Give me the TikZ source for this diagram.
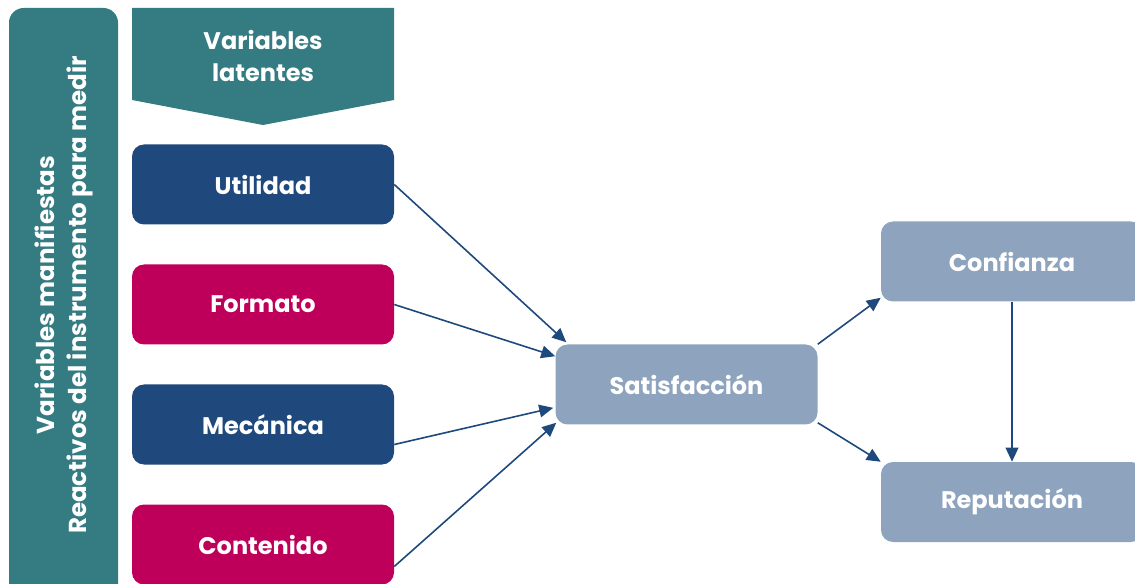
\documentclass[tikz,border=0pt]{standalone}
\usepackage{fontspec}
\setmainfont{Poppins}
\usetikzlibrary{arrows.meta}
\definecolor{tealbar}{HTML}{347B82}
\definecolor{navy}{HTML}{1F497D}
\definecolor{rosa}{HTML}{BE005A}
\definecolor{grisazul}{HTML}{8EA3BD}
\newcommand{\txt}{\bfseries\fontsize{18}{24.5}\selectfont}
\tikzset{
  caja/.style={rounded corners=9pt, minimum width=196.5pt, minimum height=60pt,
    inner sep=0pt, text=white, font=\txt},
  flecha/.style={draw=navy, line width=1.2pt, -{Triangle[length=10.5pt,width=9.5pt]}},
}
\begin{document}
\begin{tikzpicture}[x=0.75pt,y=-0.75pt]
   \clip (0,0) rectangle (1135,584);
   % barra izquierda
   \fill[tealbar, rounded corners=11pt] (9,8) rectangle (118,600);
   \node[rotate=90, align=center, text=white, font=\bfseries\fontsize{18.4}{24.5}\selectfont] (manif) at (64,295)
      {Variables manifiestas\\Reactivos del instrumento para medir};
   % encabezado
   \fill[tealbar] (132,8) -- (394,8) -- (394,100) -- (263,125) -- (132,100) -- cycle;
   \node[align=center, text=white, font=\txt] (lat) at (263,56) {Variables\\latentes};
   % variables
   \node[caja, fill=navy] (util) at (263,184.5) {Utilidad};
   \node[caja, fill=rosa] (form) at (263,304.5) {Formato};
   \node[caja, fill=navy] (mec)  at (263,424.5) {Mecánica};
   \node[caja, fill=rosa] (cont) at (263,544.5) {Contenido};
   \node[caja, fill=grisazul] (sat)  at (686.5,384.5) {Satisfacción};
   \node[caja, fill=grisazul] (conf) at (1012,261.5) {Confianza};
   \node[caja, fill=grisazul] (rep)  at (1012,502) {Reputación};
   % flechas
   \draw[flecha] (util.east) -- ([xshift=8.25pt,yshift=1.5pt]sat.north west);
   \draw[flecha] (form.east) -- ([yshift=-9pt]sat.north west);
   \draw[flecha] ([yshift=-15pt]mec.east) -- ([xshift=-1.5pt,yshift=-17.5pt]sat.west);
   \draw[flecha] ([yshift=-16.5pt]cont.east) -- ([xshift=0.75pt,yshift=1.5pt]sat.south west);
   \draw[flecha] (sat.north east) -- ([yshift=3pt]conf.south west);
   \draw[flecha] ([yshift=1.5pt]sat.south east) -- (rep.north west);
   \draw[flecha] (conf.south) -- (rep.north);
\end{tikzpicture}
\end{document}
